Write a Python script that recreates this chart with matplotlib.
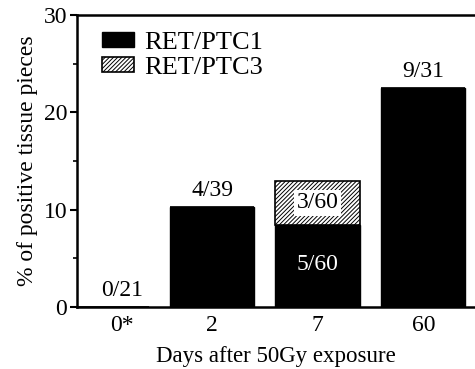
import numpy as np
import matplotlib as mpl
mpl.use('Agg')
import matplotlib.pyplot as plt

plt.rcParams['font.family'] = 'Liberation Serif'
plt.rcParams['hatch.color'] = '#9a9a9a'
plt.rcParams['hatch.linewidth'] = 0.7

# data
days = ['0*', '2', '7', '60']
ptc1 = [0.0, 10.3, 8.4, 22.5]
ptc3 = [0.0, 0.0, 4.6, 0.0]
ptc1_txt = ['0/21', '4/39', '5/60', '9/31']
ptc3_txt = ['', '', '3/60', '']

fig = plt.figure(figsize=(4.75, 3.69), dpi=100)
ax = fig.add_axes([0.162, 0.168, 0.838, 0.791])

x = np.arange(len(days))
w = 0.8
ax.bar(x, ptc1, w, color='black', edgecolor='black', linewidth=1, label='RET/PTC1')
ax.bar(x, ptc3, w, bottom=ptc1, color='white', edgecolor='black', linewidth=1.2,
       hatch='////////', label='RET/PTC3')

# labels
for i in range(len(days)):
    if ptc3[i] > 0:
        ax.text(x[i], ptc1[i] / 2 + 0.2, ptc1_txt[i], ha='center', va='center',
                color='white', fontsize=17)
        ax.text(x[i], ptc1[i] + ptc3[i] / 2, ptc3_txt[i], ha='center', va='center',
                fontsize=17, bbox=dict(facecolor='white', edgecolor='none', pad=2))
    else:
        xt = x[i] + (0.15 if ptc1[i] == 0 else 0)
        ax.text(xt, ptc1[i] + 0.6, ptc1_txt[i], ha='center', va='bottom', fontsize=17)

ax.set_xlim(-0.28, 3.49)
ax.set_ylim(0, 30)
ax.set_yticks([0, 10, 20, 30])
ax.set_yticks([5, 15, 25], minor=True)
ax.set_xticks(x + np.array([0.15, 0, 0, 0]))
ax.set_xticklabels(days)
ax.tick_params(axis='x', length=0, labelsize=17, pad=6)
ax.tick_params(axis='y', which='major', length=5, width=1.5, labelsize=17, pad=2)
ax.tick_params(axis='y', which='minor', length=3, width=1.2)

ax.spines['right'].set_visible(False)
for s in ['left', 'top', 'bottom']:
    ax.spines[s].set_linewidth(1.8)

ax.set_xlabel('Days after 50Gy exposure', fontsize=16.5, labelpad=7)
ax.set_ylabel('% of positive tissue pieces', fontsize=17, labelpad=4)

leg = ax.legend(loc='upper left', bbox_to_anchor=(0.02, 1.0), frameon=False,
                fontsize=19, handlelength=1.2, handleheight=0.5,
                handletextpad=0.4, labelspacing=0.1, borderaxespad=0.25)

fig.savefig('out.png', dpi=100)
